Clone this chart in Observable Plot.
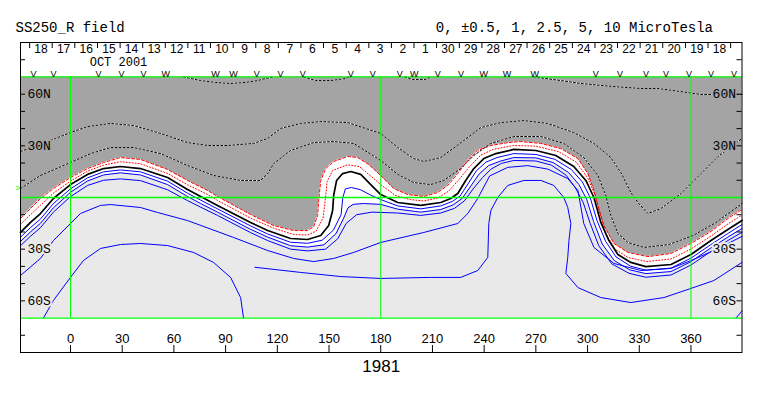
<!DOCTYPE html>
<html><head><meta charset="utf-8">
<script src="https://cdn.jsdelivr.net/npm/d3@7"></script>
<script src="https://cdn.jsdelivr.net/npm/@observablehq/plot@0.6"></script>
<style>body{margin:0;background:#fff}</style>
</head><body><div id="chart"></div>
<script>
// ---- axes / annotation data ----
const lonDomain = [-29, 389.6];
const latDomain = [-90, 90];
const fieldLat = [-70, 70];
const greenLats = [70, 0, -70];
const greenLons = [0, 180, 360];
const lonTicks = [0, 30, 60, 90, 120, 150, 180, 210, 240, 270, 300, 330, 360];
const latTicks = [-80, -60, -50, -40, -30, -20, -10, 10, 20, 30, 40, 50, 60, 80];
const latLabelVals = [60, 30, -30, -60];
const latLabelText = ["60N", "30N", "30S", "60S"];
const dayLabels = ["18","17","16","15","14","13","12","11","10","9","8","7","6","5","4","3","2","1","30","29","28","27","26","25","24","23","22","21","20","19","18"];
const dayLons = [-17.1,-4.0,9.1,22.3,35.4,48.5,61.6,74.7,87.8,101.0,114.1,127.2,140.3,153.4,166.6,179.7,192.8,205.9,219.0,232.2,245.3,258.4,271.5,284.6,297.8,310.9,324.0,337.1,350.2,363.4,376.5];
const daySepLons = [-23.7,-10.6,2.5,15.7,28.8,41.9,55.0,68.1,81.2,94.4,107.5,120.6,133.7,146.8,160.0,173.1,186.2,199.3,212.4,225.6,238.7,251.8,264.9,278.0,291.2,304.3,317.4,330.5,343.6,356.8,369.9,383.0];
const markerLons = [-21.5,-9.9,16.3,29.6,42.4,55.2,84.2,94.6,108.0,121.9,134.7,162.6,175.4,191.0,199.5,213.1,226.5,239.8,253.2,269.4,304.8,318.8,333.9,345.5,358.8,371.6,384.9];
const markerKinds = ["V","V","V","V","V","W","W","W","V","V","V","V","V","V","W","V","V","W","W","W","V","V","V","V","V","V","V"];
const b0Lat = [5.2];
const title = "SS250_R field";
const units = "0, \u00b10.5, 1, 2.5, 5, 10 MicroTesla";
const monthLabel = "OCT 2001";
const yearLabel = "1981";

// ---- contour lines [lon, lat] ----
const neutral = [[-29,-20.3],[-23.2,-14.5],[-17.4,-9.3],[-9.9,-0.6],[0,7.5],[9.9,13.4],[19.2,16.8],[29,18],[40.6,16.8],[56.3,11.6],[67.9,4.6],[75.5,0.6],[85.3,-4.6],[104.5,-14.5],[114.4,-19.2],[127.7,-23.8],[137.6,-24.4],[145.2,-22.1],[149.8,-16.3],[152.1,-7.5],[152.7,1.2],[154.4,9.9],[157.9,13.9],[162.6,15.1],[168.4,13.4],[174.2,7.5],[180,1.7],[189.9,-2.9],[203.2,-4.6],[214.8,-2.9],[220.6,-0.6],[224.7,2.3],[229.3,9.9],[234,16.8],[239.8,22.6],[246.8,25.5],[257.2,27.9],[270,27.3],[281.6,24.4],[292,18],[299,9.9],[303.7,0],[307.7,-14.5],[312.4,-25],[317.6,-33.1],[325.1,-37.7],[333.8,-40.1],[348.4,-38.9],[360,-33.1],[371.6,-25],[381.4,-18.6],[389.6,-13.4]];
const redOuter = [[-29,-12.2],[-23.2,-6.4],[-17.4,-0.6],[-9.9,5.2],[0,11.6],[9.9,16.8],[19.2,20.3],[29,23.2],[40.6,22.1],[56.3,16.3],[67.9,9.9],[79.5,4.1],[85.3,0.6],[104.5,-9.9],[117.9,-16.3],[129.5,-19.2],[137.6,-19.2],[141.1,-16.8],[143.4,-10.5],[144,-1.7],[145.2,9.9],[148.1,16.8],[152.7,20.9],[160.8,23.8],[166.6,23.2],[173,19.2],[180,12.8],[187.5,5.2],[195.7,1.7],[205,0.6],[213.1,2.9],[218.9,7],[224.7,13.9],[230.5,21.5],[236.3,27.3],[243.9,30.2],[253.7,31.9],[261.3,32.5],[272.9,31.4],[284.5,28.4],[294.4,22.6],[300.2,13.9],[303.7,4.1],[306,-4.6],[309.5,-16.3],[315.3,-26.7],[323.4,-31.9],[335,-34.3],[348.4,-32.5],[360,-26.7],[371.6,-19.7],[381.4,-12.2],[389.6,-7]];
const redInner = [[-29,-15.5],[-23.2,-10],[-17.4,-4.5],[-9.9,2.5],[0,9.5],[9.9,15.3],[19.2,18.8],[29,20.8],[40.6,19.6],[56.3,14],[67.9,7.4],[79.5,1.8],[85.3,-1.7],[104.5,-12],[117.9,-17.8],[129.5,-21.5],[137.6,-21.8],[142.5,-19.5],[146.5,-12],[147.8,-1.7],[148.9,9.3],[152.1,15.7],[160.8,19],[167.5,18],[173.6,13],[180,7.5],[188.5,1.2],[197,-1.2],[205,-2],[213.1,-0.3],[219.5,3.8],[225.5,10.5],[232,18.5],[238,24.5],[245,27.9],[257,30.2],[270,29.8],[283,26.7],[293.5,20.5],[300,11.5],[304.5,1.2],[307,-9],[310.5,-21],[316,-30],[323.5,-34.9],[334.5,-37.2],[348.4,-35.7],[360,-29.9],[371.6,-22.4],[381.4,-15.4],[389.6,-10.2]];
const blue1 = [[-29,-23],[-23.2,-17.5],[-17.4,-12.5],[-9.9,-3.5],[0,5],[9.9,11.4],[19.2,14.9],[29,16],[40.6,14.9],[56.3,9.5],[67.9,2.5],[75.5,-1.5],[85.3,-6.6],[104.5,-16.5],[114.4,-21.2],[127.7,-26],[137.6,-26.6],[146,-24.8],[152.5,-19],[157,-10],[158,0],[159.5,5],[163,5.8],[168,4.6],[174,1.5],[180,-1.2],[189.9,-4.9],[203.2,-6.6],[214.8,-4.9],[221.5,-2.3],[226,0.8],[231,8.5],[235.5,15.5],[241,20.5],[247.5,23.2],[257.2,25.5],[270,25],[281,22.2],[290.5,16.3],[297,9],[301.5,0],[305.5,-13.5],[310.5,-25.5],[316.5,-34.5],[325,-39.9],[333.8,-42.2],[348.4,-41],[360,-35.2],[371.6,-27.3],[381.4,-20.9],[389.6,-15.7]];
const blue2 = [[-29,-25.5],[-23.2,-20],[-17.4,-15],[-9.9,-6],[0,3],[9.9,9.6],[19.2,13.1],[29,14.3],[40.6,13.1],[56.3,7.5],[67.9,0.6],[75.5,-3.5],[85.3,-8.5],[104.5,-18.5],[114.4,-23],[127.7,-28],[137.6,-28.8],[147,-27.5],[154,-21],[158.5,-12],[161,-6],[164,-4],[170,-3.5],[180,-4],[189.9,-6.8],[203.2,-8.5],[214.8,-7],[222,-4.3],[227.3,-0.5],[232.5,7],[237,13.5],[242.5,18.5],[249,21],[257.2,23.2],[270,23],[280,20.3],[289,14.5],[295,7.5],[299.5,-1],[303.5,-14],[308.5,-27],[315.5,-36.6],[324.5,-42],[333.8,-44.2],[348.4,-43],[360,-37.2],[371.6,-29.3],[381.4,-23],[389.6,-18]];
const blue3 = [[-29,-28],[-23.2,-22.5],[-17.4,-17.5],[-9.9,-8.5],[0,0.5],[9.9,7],[19.2,10],[29,10.8],[40.6,9.8],[56.3,4.5],[67.9,-1.8],[75.5,-5.6],[85.3,-10.4],[104.5,-20.4],[114.4,-25],[127.7,-30],[137.6,-31],[148,-30],[155,-24],[160,-15],[166,-10],[175,-8.5],[189.9,-9],[203.2,-10.4],[214.8,-9],[222.8,-6.3],[228.5,-2],[234,5.5],[239,11.5],[244,16.5],[250,19.8],[257.2,21.5],[270,21.2],[279,18.8],[287.5,13],[293,5.5],[297.5,-3],[301.5,-15],[306.5,-28],[314,-38.5],[324,-44],[333.8,-46.3],[348.4,-45],[360,-39.2],[371.6,-31.3],[381.4,-25],[389.6,-20.2]];
const blue4 = [[-29,-45.3],[-17.4,-35.4],[-9.9,-25],[0,-15.1],[5.8,-9.3],[17.4,-4.6],[23.2,-4.1],[40.6,-5.8],[50.5,-8.7],[67.9,-13.4],[94.6,-23.2],[114.4,-30.8],[129.5,-35.4],[141.1,-37.2],[152.7,-35.4],[164.3,-31.9],[180,-26.1],[205,-20.3],[224.7,-15.1],[230.5,-9.3],[236.3,-0.5],[243.2,12.5],[253.7,17.5],[265.3,18.5],[276.9,16.5],[288.5,11],[294.4,4.1],[297.8,-15.1],[303.7,-29],[315.3,-38.3],[331,-42.4],[348.4,-41.2],[360,-36.6],[373.3,-30.8],[389.6,-22.6]];
const blue5 = [[107,-40.5],[133.5,-43.5],[156.8,-45.9],[180,-47],[209,-46.4],[226.4,-46.4],[236.3,-42.4],[242.1,-34.8],[242.7,-15.1],[243.9,-7.5],[247.9,0],[253.7,7],[263,9.9],[272.9,9.9],[280.4,7],[286.2,0],[288.5,-5.8],[290.3,-15.1],[289.2,-25],[288.5,-34.8],[287.4,-44.1],[294.4,-52.3],[307.7,-58.1],[325.1,-61],[344.3,-58.1],[360,-52.8],[373.3,-48.2],[389.6,-37.7]];
const blueArch = [[-15.7,-70],[-9.9,-59.8],[0,-46.4],[7.5,-36.6],[17.4,-29.6],[29,-27.3],[40.6,-26.7],[56.3,-27.9],[71.4,-31.9],[83,-37.7],[92.9,-46.4],[98.7,-58.1],[100.4,-70]];
const blueCorner = [[386.1,-70],[389.6,-65.9]];
const dotTopA = [[65.6,70],[75.5,67.9],[84.2,66.8],[92.9,66.2],[101.6,66.8],[108.6,67.9],[113.2,69.1],[117.9,70]];
const dotTopB = [[135.3,70],[142.3,67.9],[151,67.9],[159.7,69.1],[161.4,70]];
const dotTopC = [[193.9,70],[198.6,68.5],[206.1,68.5],[209,70]];
const dotTopD = [[268.8,70],[284.5,67.9],[296.1,66.2],[315.3,64.4],[331,63.3],[340.8,63.3],[354.2,61.5],[365.8,59.8],[389.6,59.8]];
const dot1 = [[-29,26.7],[-8.7,34.3],[0,37.7],[9.9,41.2],[23.2,43],[36.6,41.8],[52.3,37.2],[67.9,31.9],[79.5,30.2],[91.2,30.2],[106.3,31.4],[114.4,34.3],[121.9,40.1],[133.5,43],[145.2,44.1],[160.8,43.5],[180,37.2],[189.9,29],[199.1,22.6],[205,20.9],[214.8,23.2],[228.2,33.1],[238.1,40.6],[249.7,43.5],[263,44.7],[276.9,43],[292,37.7],[303.7,31.4],[313.5,23.2],[319.3,14.5],[325.1,2.9],[329.2,-2.9],[335,-9.3],[342.6,-6.4],[354.2,2.3],[365.8,13.9],[375.7,23.8],[389.6,34.3]];
const dot2 = [[-29,5.2],[-17.4,12.8],[0,20.3],[11.6,25.5],[23.2,29],[36.6,29],[52.3,25.5],[67.9,18.6],[83,12.8],[98.7,9.9],[110.3,9.9],[114.4,13.9],[117.9,19.7],[127.7,27.3],[141.1,31.9],[152.7,32.5],[164.3,31.4],[180,21.5],[189.9,13.4],[199.1,8.7],[209,7.5],[216.6,9.9],[226.4,16.8],[234,24.4],[243.9,31.4],[257.2,35.4],[272.9,35.4],[286.2,31.4],[297.8,23.2],[306,12.8],[310.6,1.2],[313.5,-10.5],[317.6,-20.9],[323.4,-26.1],[332.7,-29],[347.2,-27.3],[361.2,-22.1],[374.5,-14.5],[389.6,-3.5]];

// ---- drawing ----
const GRAY = "#a4a4a4", LIGHT = "#e9e9e9", GREEN = "#00ff00", BLUE = "#0000ff", RED = "#ff0000";
const MONO = "Liberation Mono", SANS = "Liberation Sans";
const P = a => a.map(([lon, lat]) => ({lon, lat}));
const xy = {x: "lon", y: "lat"};
const blues = [blue1, blue2, blue3, blue4, blue5, blueArch, blueCorner];
const dots = [dotTopA, dotTopB, dotTopC, dotTopD, dot1, dot2];

const marks = [
  Plot.rect([0], {x1: lonDomain[0], x2: lonDomain[1], y1: fieldLat[0], y2: fieldLat[1], fill: LIGHT}),
  Plot.area(P(blue2), {x1: "lon", y1: "lat", y2: fieldLat[1], fill: "white"}),
  Plot.area(P(redOuter), {x1: "lon", y1: "lat", y2: fieldLat[1], fill: GRAY}),
  ...dots.flatMap(d => [
    Plot.line(P(d), {...xy, stroke: "white", strokeWidth: 1}),
    Plot.line(P(d), {...xy, stroke: "black", strokeWidth: 1, strokeDasharray: "2,2"})
  ]),
  ...blues.map(b => Plot.line(P(b), {...xy, stroke: BLUE, strokeWidth: 1})),
  Plot.line(P(redInner), {...xy, stroke: RED, strokeWidth: 1, strokeDasharray: "1,2"}),
  Plot.line(P(redOuter), {...xy, stroke: RED, strokeWidth: 1, strokeDasharray: "3,2"}),
  Plot.line(P(neutral), {...xy, stroke: "black", strokeWidth: 1.7}),
  Plot.ruleX(greenLons, {y1: fieldLat[0], y2: fieldLat[1], stroke: GREEN, strokeWidth: 1}),
  // latitude labels inside the frame
  Plot.text(latLabelVals, {y: d => d, text: (d, i) => latLabelText[i], frameAnchor: "left", dx: 7, textAnchor: "start", lineAnchor: "middle", fontFamily: MONO, fontSize: 13, fill: "black", stroke: d => d > 0 ? GRAY : LIGHT, strokeWidth: 4, paintOrder: "stroke"}),
  Plot.text(latLabelVals, {y: d => d, text: (d, i) => latLabelText[i], frameAnchor: "right", dx: -6, textAnchor: "end", lineAnchor: "middle", fontFamily: MONO, fontSize: 13, fill: "black", stroke: d => d > 0 ? GRAY : LIGHT, strokeWidth: 4, paintOrder: "stroke"}),
  Plot.tickY(latTicks, {insetRight: 716.5, stroke: "black"}),
  Plot.tickY(latTicks, {insetLeft: 716.5, stroke: "black"}),
  Plot.ruleY(greenLats, {stroke: GREEN, strokeWidth: 1.3}),
  // bottom longitude axis
  Plot.tickX(lonTicks, {insetTop: 303, stroke: "black"}),
  Plot.text(lonTicks, {x: d => d, text: d => String(d), frameAnchor: "bottom", dy: -14, lineAnchor: "middle", fontFamily: SANS, fontSize: 13, fill: "black"}),
  // top date band
  Plot.tickX(daySepLons, {insetBottom: 304, stroke: "black"}),
  Plot.text(dayLabels, {x: (d, i) => dayLons[i], text: d => d, frameAnchor: "top", dy: 7, lineAnchor: "middle", fontFamily: SANS, fontSize: 12, fill: "black"}),
  Plot.text([monthLabel], {frameAnchor: "top-left", dx: 98, dy: 20, textAnchor: "middle", lineAnchor: "middle", fontFamily: MONO, fontSize: 12, fill: "black"}),
  Plot.text(markerLons, {x: d => d, text: (d, i) => markerKinds[i], frameAnchor: "top", dy: 32, lineAnchor: "middle", fontFamily: SANS, fontSize: 9, fill: "black"}),
  Plot.text(b0Lat, {y: d => d, text: () => ">", frameAnchor: "left", dx: -5, lineAnchor: "middle", fontFamily: SANS, fontSize: 9, fill: GREEN}),
  Plot.frame({stroke: "black", strokeWidth: 1}),
  // titles
  Plot.text([title], {frameAnchor: "top-left", dx: -5, dy: -15, textAnchor: "start", lineAnchor: "middle", fontFamily: MONO, fontSize: 14, fill: "black"}),
  Plot.text([units], {frameAnchor: "top-right", dx: -29, dy: -15, textAnchor: "end", lineAnchor: "middle", fontFamily: MONO, fontSize: 14, fill: "black"}),
  Plot.text([yearLabel], {frameAnchor: "bottom", dy: 14, lineAnchor: "middle", fontFamily: SANS, fontSize: 17, fill: "black"})
];

const chart = Plot.plot({
  width: 763, height: 396,
  marginLeft: 20, marginRight: 21.5, marginTop: 42, marginBottom: 44,
  x: {domain: lonDomain, axis: null},
  y: {domain: latDomain, axis: null},
  style: {background: "white", fontFamily: SANS, overflow: "visible"},
  marks
});
document.getElementById("chart").appendChild(chart);
</script></body></html>
